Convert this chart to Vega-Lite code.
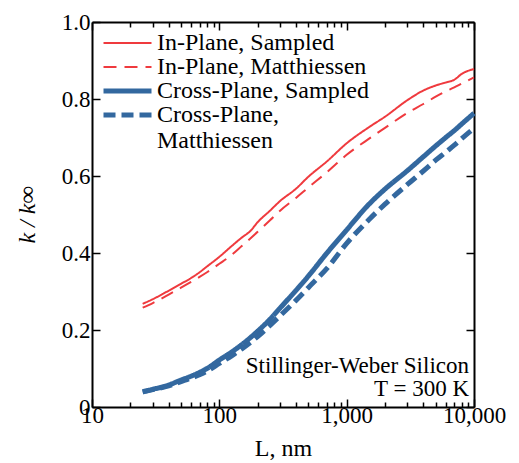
{
  "$schema": "https://vega.github.io/schema/vega-lite/v6.json",
  "width": 382,
  "height": 385,
  "autosize": {"type": "none"},
  "padding": {"left": 92, "top": 22, "right": 45, "bottom": 56},
  "background": "white",
  "config": {
    "view": {"stroke": null},
    "font": "Liberation Serif",
    "axis": {
      "domainColor": "black", "domainWidth": 2, "tickColor": "black", "tickWidth": 1.5,
      "labelFont": "Liberation Serif", "labelFontSize": 23, "labelColor": "black",
      "titleFont": "Liberation Serif", "titleFontSize": 24, "titleColor": "black", "titleFontWeight": "normal",
      "grid": false, "labelOverlap": false, "labelFlush": false
    },
    "legend": {"labelFont": "Liberation Serif", "labelColor": "black"}
  },
  "datasets": {
    "curves": [
      {"L": 25, "k": 0.268, "s": "In-Plane, Sampled"},
      {"L": 30, "k": 0.28, "s": "In-Plane, Sampled"},
      {"L": 40, "k": 0.302, "s": "In-Plane, Sampled"},
      {"L": 50, "k": 0.32, "s": "In-Plane, Sampled"},
      {"L": 60, "k": 0.335, "s": "In-Plane, Sampled"},
      {"L": 70, "k": 0.35, "s": "In-Plane, Sampled"},
      {"L": 80, "k": 0.365, "s": "In-Plane, Sampled"},
      {"L": 100, "k": 0.39, "s": "In-Plane, Sampled"},
      {"L": 125, "k": 0.418, "s": "In-Plane, Sampled"},
      {"L": 150, "k": 0.44, "s": "In-Plane, Sampled"},
      {"L": 175, "k": 0.457, "s": "In-Plane, Sampled"},
      {"L": 200, "k": 0.48, "s": "In-Plane, Sampled"},
      {"L": 250, "k": 0.51, "s": "In-Plane, Sampled"},
      {"L": 300, "k": 0.535, "s": "In-Plane, Sampled"},
      {"L": 400, "k": 0.567, "s": "In-Plane, Sampled"},
      {"L": 500, "k": 0.598, "s": "In-Plane, Sampled"},
      {"L": 700, "k": 0.638, "s": "In-Plane, Sampled"},
      {"L": 1000, "k": 0.685, "s": "In-Plane, Sampled"},
      {"L": 1500, "k": 0.727, "s": "In-Plane, Sampled"},
      {"L": 2000, "k": 0.754, "s": "In-Plane, Sampled"},
      {"L": 3000, "k": 0.797, "s": "In-Plane, Sampled"},
      {"L": 4000, "k": 0.822, "s": "In-Plane, Sampled"},
      {"L": 5000, "k": 0.835, "s": "In-Plane, Sampled"},
      {"L": 6000, "k": 0.843, "s": "In-Plane, Sampled"},
      {"L": 7000, "k": 0.85, "s": "In-Plane, Sampled"},
      {"L": 8000, "k": 0.865, "s": "In-Plane, Sampled"},
      {"L": 10000, "k": 0.878, "s": "In-Plane, Sampled"},
      {"L": 25, "k": 0.258, "s": "In-Plane, Matthiessen"},
      {"L": 30, "k": 0.27, "s": "In-Plane, Matthiessen"},
      {"L": 40, "k": 0.292, "s": "In-Plane, Matthiessen"},
      {"L": 50, "k": 0.31, "s": "In-Plane, Matthiessen"},
      {"L": 60, "k": 0.325, "s": "In-Plane, Matthiessen"},
      {"L": 70, "k": 0.338, "s": "In-Plane, Matthiessen"},
      {"L": 80, "k": 0.35, "s": "In-Plane, Matthiessen"},
      {"L": 100, "k": 0.372, "s": "In-Plane, Matthiessen"},
      {"L": 125, "k": 0.395, "s": "In-Plane, Matthiessen"},
      {"L": 150, "k": 0.418, "s": "In-Plane, Matthiessen"},
      {"L": 200, "k": 0.455, "s": "In-Plane, Matthiessen"},
      {"L": 250, "k": 0.485, "s": "In-Plane, Matthiessen"},
      {"L": 300, "k": 0.51, "s": "In-Plane, Matthiessen"},
      {"L": 400, "k": 0.543, "s": "In-Plane, Matthiessen"},
      {"L": 500, "k": 0.57, "s": "In-Plane, Matthiessen"},
      {"L": 700, "k": 0.61, "s": "In-Plane, Matthiessen"},
      {"L": 1000, "k": 0.655, "s": "In-Plane, Matthiessen"},
      {"L": 1500, "k": 0.697, "s": "In-Plane, Matthiessen"},
      {"L": 2000, "k": 0.725, "s": "In-Plane, Matthiessen"},
      {"L": 3000, "k": 0.764, "s": "In-Plane, Matthiessen"},
      {"L": 4000, "k": 0.787, "s": "In-Plane, Matthiessen"},
      {"L": 5000, "k": 0.806, "s": "In-Plane, Matthiessen"},
      {"L": 6000, "k": 0.82, "s": "In-Plane, Matthiessen"},
      {"L": 7000, "k": 0.83, "s": "In-Plane, Matthiessen"},
      {"L": 8000, "k": 0.84, "s": "In-Plane, Matthiessen"},
      {"L": 10000, "k": 0.856, "s": "In-Plane, Matthiessen"},
      {"L": 25, "k": 0.04, "s": "Cross-Plane, Sampled"},
      {"L": 30, "k": 0.046, "s": "Cross-Plane, Sampled"},
      {"L": 40, "k": 0.057, "s": "Cross-Plane, Sampled"},
      {"L": 50, "k": 0.07, "s": "Cross-Plane, Sampled"},
      {"L": 60, "k": 0.08, "s": "Cross-Plane, Sampled"},
      {"L": 70, "k": 0.09, "s": "Cross-Plane, Sampled"},
      {"L": 80, "k": 0.1, "s": "Cross-Plane, Sampled"},
      {"L": 100, "k": 0.122, "s": "Cross-Plane, Sampled"},
      {"L": 125, "k": 0.143, "s": "Cross-Plane, Sampled"},
      {"L": 150, "k": 0.162, "s": "Cross-Plane, Sampled"},
      {"L": 200, "k": 0.197, "s": "Cross-Plane, Sampled"},
      {"L": 250, "k": 0.228, "s": "Cross-Plane, Sampled"},
      {"L": 300, "k": 0.257, "s": "Cross-Plane, Sampled"},
      {"L": 400, "k": 0.303, "s": "Cross-Plane, Sampled"},
      {"L": 500, "k": 0.34, "s": "Cross-Plane, Sampled"},
      {"L": 700, "k": 0.4, "s": "Cross-Plane, Sampled"},
      {"L": 1000, "k": 0.46, "s": "Cross-Plane, Sampled"},
      {"L": 1500, "k": 0.527, "s": "Cross-Plane, Sampled"},
      {"L": 2000, "k": 0.566, "s": "Cross-Plane, Sampled"},
      {"L": 3000, "k": 0.614, "s": "Cross-Plane, Sampled"},
      {"L": 4000, "k": 0.65, "s": "Cross-Plane, Sampled"},
      {"L": 5000, "k": 0.678, "s": "Cross-Plane, Sampled"},
      {"L": 6000, "k": 0.7, "s": "Cross-Plane, Sampled"},
      {"L": 7000, "k": 0.718, "s": "Cross-Plane, Sampled"},
      {"L": 8000, "k": 0.735, "s": "Cross-Plane, Sampled"},
      {"L": 10000, "k": 0.763, "s": "Cross-Plane, Sampled"},
      {"L": 25, "k": 0.039, "s": "Cross-Plane, Matthiessen"},
      {"L": 30, "k": 0.045, "s": "Cross-Plane, Matthiessen"},
      {"L": 40, "k": 0.055, "s": "Cross-Plane, Matthiessen"},
      {"L": 50, "k": 0.066, "s": "Cross-Plane, Matthiessen"},
      {"L": 60, "k": 0.075, "s": "Cross-Plane, Matthiessen"},
      {"L": 70, "k": 0.084, "s": "Cross-Plane, Matthiessen"},
      {"L": 80, "k": 0.093, "s": "Cross-Plane, Matthiessen"},
      {"L": 100, "k": 0.113, "s": "Cross-Plane, Matthiessen"},
      {"L": 125, "k": 0.133, "s": "Cross-Plane, Matthiessen"},
      {"L": 150, "k": 0.151, "s": "Cross-Plane, Matthiessen"},
      {"L": 200, "k": 0.183, "s": "Cross-Plane, Matthiessen"},
      {"L": 250, "k": 0.212, "s": "Cross-Plane, Matthiessen"},
      {"L": 300, "k": 0.237, "s": "Cross-Plane, Matthiessen"},
      {"L": 400, "k": 0.277, "s": "Cross-Plane, Matthiessen"},
      {"L": 500, "k": 0.31, "s": "Cross-Plane, Matthiessen"},
      {"L": 700, "k": 0.36, "s": "Cross-Plane, Matthiessen"},
      {"L": 1000, "k": 0.425, "s": "Cross-Plane, Matthiessen"},
      {"L": 1500, "k": 0.487, "s": "Cross-Plane, Matthiessen"},
      {"L": 2000, "k": 0.527, "s": "Cross-Plane, Matthiessen"},
      {"L": 3000, "k": 0.578, "s": "Cross-Plane, Matthiessen"},
      {"L": 4000, "k": 0.613, "s": "Cross-Plane, Matthiessen"},
      {"L": 5000, "k": 0.641, "s": "Cross-Plane, Matthiessen"},
      {"L": 6000, "k": 0.662, "s": "Cross-Plane, Matthiessen"},
      {"L": 7000, "k": 0.68, "s": "Cross-Plane, Matthiessen"},
      {"L": 8000, "k": 0.697, "s": "Cross-Plane, Matthiessen"},
      {"L": 10000, "k": 0.724, "s": "Cross-Plane, Matthiessen"}
    ],
    "note": [
      {"L": 10000, "k": 0, "line1": "Stillinger-Weber Silicon", "line2": "T = 300 K"}
    ]
  },
  "resolve": {"axis": {"x": "independent", "y": "independent"}},
  "layer": [
    {
      "data": {"name": "curves"},
      "mark": {"type": "line", "strokeCap": "butt", "strokeJoin": "round", "interpolate": "monotone"},
      "encoding": {
        "x": {
          "field": "L", "type": "quantitative",
          "scale": {"type": "log", "domain": [10, 10000], "nice": false},
          "axis": {
            "orient": "bottom",
            "values": [10, 20, 30, 40, 50, 60, 70, 80, 90, 100, 200, 300, 400, 500, 600, 700, 800, 900, 1000, 2000, 3000, 4000, 5000, 6000, 7000, 8000, 9000, 10000],
            "labelExpr": "indexof([10, 100, 1000, 10000], datum.value) >= 0 ? format(datum.value, ',') : ''",
            "tickSize": {"condition": {"test": "indexof([10, 100, 1000, 10000], datum.value) >= 0", "value": -8}, "value": -5},
            "labelPadding": 5,
            "title": "L, nm",
            "titlePadding": 6
          }
        },
        "y": {
          "field": "k", "type": "quantitative",
          "scale": {"domain": [0, 1], "nice": false},
          "axis": {
            "orient": "left",
            "values": [0, 0.2, 0.4, 0.6, 0.8, 1.0],
            "labelExpr": "datum.value == 0 ? '0' : format(datum.value, '.1f')",
            "tickSize": -8,
            "labelPadding": 10,
            "title": "k / k∞",
            "titleFontStyle": "italic",
            "titlePadding": 22
          }
        },
        "color": {
          "field": "s", "type": "nominal",
          "scale": {
            "domain": ["In-Plane, Sampled", "In-Plane, Matthiessen", "Cross-Plane, Sampled", "Cross-Plane, Matthiessen"],
            "range": ["#ef3a3e", "#ef3a3e", "#33689f", "#33689f"]
          },
          "legend": {
            "orient": "top-left",
            "offset": 9,
            "title": null,
            "labelFontSize": 24,
            "symbolType": "stroke",
            "symbolSize": 2304,
            "labelOffset": 3,
            "rowPadding": 0,
            "padding": 0,
            "clipHeight": 24,
            "labelLimit": 400,
            "labelExpr": "datum.label == 'Cross-Plane, Matthiessen' ? ['Cross-Plane,', 'Matthiessen'] : datum.label"
          }
        },
        "strokeDash": {
          "field": "s", "type": "nominal",
          "scale": {
            "domain": ["In-Plane, Sampled", "In-Plane, Matthiessen", "Cross-Plane, Sampled", "Cross-Plane, Matthiessen"],
            "range": [[1, 0], [13, 8], [1, 0], [12, 6]]
          }
        },
        "strokeWidth": {
          "field": "s", "type": "nominal",
          "scale": {
            "type": "ordinal",
            "domain": ["In-Plane, Sampled", "In-Plane, Matthiessen", "Cross-Plane, Sampled", "Cross-Plane, Matthiessen"],
            "range": [2, 2, 5, 5]
          }
        }
      }
    },
    {
      "data": {"name": "note"},
      "mark": {"type": "text", "align": "right", "baseline": "alphabetic", "fontSize": 23, "dx": -5, "dy": -34, "color": "black", "font": "Liberation Serif"},
      "encoding": {
        "x": {
          "field": "L", "type": "quantitative",
          "axis": {
            "orient": "top",
            "values": [10, 20, 30, 40, 50, 60, 70, 80, 90, 100, 200, 300, 400, 500, 600, 700, 800, 900, 1000, 2000, 3000, 4000, 5000, 6000, 7000, 8000, 9000, 10000],
            "labels": false,
            "tickSize": {"condition": {"test": "indexof([10, 100, 1000, 10000], datum.value) >= 0", "value": -8}, "value": -5},
            "title": null
          }
        },
        "y": {
          "field": "k", "type": "quantitative",
          "axis": {
            "orient": "right",
            "values": [0, 0.2, 0.4, 0.6, 0.8, 1.0],
            "labels": false,
            "tickSize": -8,
            "title": null
          }
        },
        "text": {"field": "line1"}
      }
    },
    {
      "data": {"name": "note"},
      "mark": {"type": "text", "align": "right", "baseline": "alphabetic", "fontSize": 23, "dx": -5, "dy": -11, "color": "black", "font": "Liberation Serif"},
      "encoding": {
        "x": {"field": "L", "type": "quantitative", "axis": null},
        "y": {"field": "k", "type": "quantitative", "axis": null},
        "text": {"field": "line2"}
      }
    }
  ]
}
